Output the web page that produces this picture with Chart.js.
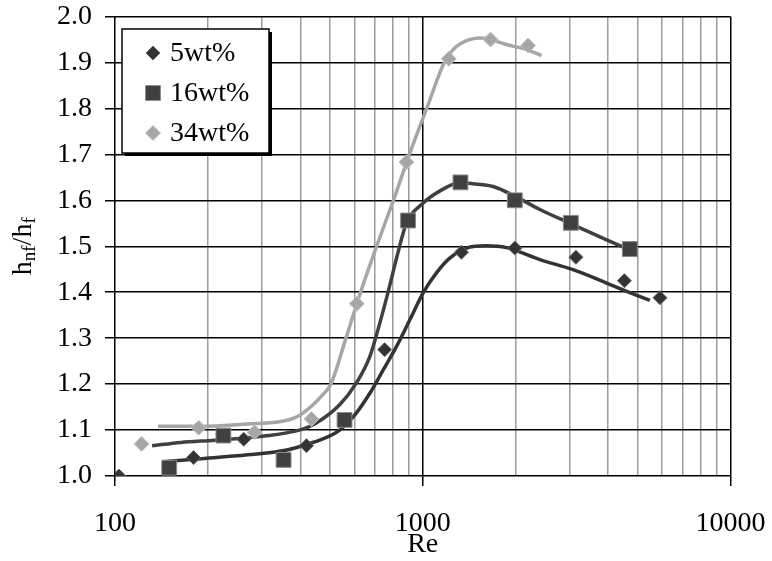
<!DOCTYPE html>
<html>
<head>
<meta charset="utf-8">
<script src="https://cdn.jsdelivr.net/npm/chart.js@4.4.0/dist/chart.umd.min.js"></script>
<style>
  html, body { margin: 0; padding: 0; background: #fff; }
  #wrap { position: relative; width: 772px; height: 561px; }
</style>
</head>
<body>
<div id="wrap"><canvas id="chart"></canvas></div>
<script>
// measured points (Re, h_nf/h_f)
const re5 = [103, 180, 262, 419, 752, 1336, 1991, 3146, 4520, 5900];
const h5 = [1.000, 1.040, 1.080, 1.066, 1.275, 1.487, 1.496, 1.476, 1.425, 1.388];
const re16 = [150, 225, 353, 557, 896, 1326, 1991, 3028, 4710];
const h16 = [1.018, 1.088, 1.035, 1.122, 1.556, 1.639, 1.600, 1.551, 1.494];
const re34 = [122, 187, 284, 435, 611, 885, 1215, 1660, 2200];
const h34 = [1.070, 1.105, 1.095, 1.124, 1.375, 1.683, 1.908, 1.950, 1.937];

// trend curves
const fitRe5 = [144, 186, 270, 365, 424, 463, 537, 608, 673, 744, 822, 908, 1006, 1108, 1224, 1387, 1611, 1871, 2402, 3080, 3958, 4596, 5470];
const fitH5 = [1.031, 1.037, 1.046, 1.057, 1.070, 1.078, 1.100, 1.137, 1.180, 1.231, 1.282, 1.340, 1.400, 1.442, 1.474, 1.496, 1.501, 1.497, 1.471, 1.449, 1.420, 1.402, 1.382];
const fitRe16 = [132, 164, 211, 306, 403, 445, 537, 608, 673, 715, 770, 835, 885, 1003, 1135, 1320, 1458, 1693, 2018, 2402, 3080, 3958, 4707];
const fitH16 = [1.066, 1.073, 1.078, 1.087, 1.101, 1.113, 1.155, 1.202, 1.260, 1.318, 1.398, 1.492, 1.550, 1.594, 1.620, 1.638, 1.636, 1.630, 1.607, 1.580, 1.547, 1.514, 1.492];
const fitRe34 = [138, 186, 270, 365, 400, 440, 470, 503, 563, 628, 708, 803, 905, 1030, 1175, 1245, 1320, 1531, 1655, 1871, 2173, 2432];
const fitH34 = [1.108, 1.108, 1.113, 1.122, 1.133, 1.155, 1.175, 1.200, 1.300, 1.400, 1.500, 1.600, 1.700, 1.800, 1.900, 1.925, 1.940, 1.953, 1.950, 1.939, 1.928, 1.915];

const seriesNames = ['5wt%', '16wt%', '34wt%'];
const xTicks = [100, 200, 300, 400, 500, 600, 700, 800, 900, 1000,
  2000, 3000, 4000, 5000, 6000, 7000, 8000, 9000, 10000];
const xTickLabels = ['100', '1000', '10000'];

const FONT = '"Liberation Serif", "Times New Roman", serif';

function pts(xs, ys) {
  return xs.map((x, i) => ({ x: x, y: ys[i] }));
}

function isDecade(v) {
  const l = Math.log10(v);
  return Math.abs(l - Math.round(l)) < 1e-6;
}

function markerDs(label, xs, ys, style, r, fill, border) {
  return {
    label: label,
    data: pts(xs, ys),
    showLine: false,
    pointStyle: style,
    pointRadius: r,
    pointHoverRadius: r,
    backgroundColor: fill,
    borderColor: border,
    borderWidth: 1,
    order: 0
  };
}

function trendDs(xs, ys, color) {
  return {
    label: 'trend',
    data: pts(xs, ys),
    showLine: true,
    pointRadius: 0,
    borderColor: color,
    borderWidth: 3.5,
    cubicInterpolationMode: 'monotone',
    fill: false,
    order: 5
  };
}

const markers = [
  markerDs(seriesNames[0], re5, h5, 'rectRot', 7, '#333333', '#666666'),
  markerDs(seriesNames[1], re16, h16, 'rect', 10.5, '#404040', '#8a8a8a'),
  markerDs(seriesNames[2], re34, h34, 'rectRot', 7.5, '#a6a6a6', '#c4c4c4')
];

// legend box inside the plot
const boxLegend = {
  id: 'boxLegend',
  afterDraw(chart) {
    const ctx = chart.ctx;
    const x = 122, y = 29, w = 147, h = 124;
    ctx.save();
    ctx.fillStyle = '#000';
    ctx.fillRect(x + 3, y + 3, w, h);
    ctx.fillStyle = '#fff';
    ctx.fillRect(x, y, w, h);
    ctx.strokeStyle = '#000';
    ctx.lineWidth = 1.5;
    ctx.strokeRect(x, y, w, h);
    markers.forEach((ds, i) => {
      const cx = x + 31, cy = y + 24 + i * 40;
      ctx.fillStyle = ds.backgroundColor;
      ctx.strokeStyle = ds.borderColor;
      ctx.lineWidth = 1;
      ctx.beginPath();
      if (ds.pointStyle === 'rect') {
        const s = ds.pointRadius * Math.SQRT1_2;
        ctx.rect(cx - s, cy - s, 2 * s, 2 * s);
      } else {
        const r = ds.pointRadius;
        ctx.moveTo(cx, cy - r);
        ctx.lineTo(cx + r, cy);
        ctx.lineTo(cx, cy + r);
        ctx.lineTo(cx - r, cy);
        ctx.closePath();
      }
      ctx.fill();
      ctx.stroke();
      ctx.fillStyle = '#000';
      ctx.font = '28px ' + FONT;
      ctx.textBaseline = 'middle';
      ctx.fillText(ds.label, x + 48, cy + 1);
    });
    ctx.restore();
  }
};

// y title with subscripts
const yTitle = {
  id: 'yTitle',
  afterDraw(chart) {
    const ctx = chart.ctx;
    const parts = [['h', 28, 0], ['nf', 19, 4], ['/h', 28, 0], ['f', 19, 4]];
    ctx.save();
    ctx.translate(23, (chart.chartArea.top + chart.chartArea.bottom) / 2);
    ctx.rotate(-Math.PI / 2);
    let total = 0;
    parts.forEach(p => {
      ctx.font = p[1] + 'px ' + FONT;
      total += ctx.measureText(p[0]).width;
    });
    let cx = -total / 2;
    ctx.fillStyle = '#000';
    ctx.textBaseline = 'alphabetic';
    parts.forEach(p => {
      ctx.font = p[1] + 'px ' + FONT;
      ctx.fillText(p[0], cx, 8 + p[2]);
      cx += ctx.measureText(p[0]).width;
    });
    ctx.restore();
  }
};

const ctx = document.getElementById('chart').getContext('2d');
const chart = new Chart(ctx, {
  type: 'scatter',
  data: {
    datasets: [
      markers[0], markers[1], markers[2],
      trendDs(fitRe5, fitH5, '#333333'),
      trendDs(fitRe16, fitH16, '#404040'),
      trendDs(fitRe34, fitH34, '#a6a6a6')
    ]
  },
  options: {
    responsive: true,
    maintainAspectRatio: false,
    devicePixelRatio: 1,
    animation: false,
    layout: { padding: { top: 16.5, right: 41.5, left: 0, bottom: 0 } },
    plugins: {
      legend: { display: false },
      tooltip: { enabled: false }
    },
    scales: {
      x: {
        type: 'logarithmic',
        min: 100,
        max: 10000,
        afterBuildTicks: (scale) => {
          scale.ticks = xTicks.map(v => ({ value: v }));
        },
        afterFit: (scale) => {
          scale.height = 85;
          scale.paddingLeft = 0;
          scale.paddingRight = 0;
        },
        border: { display: false },
        grid: {
          color: (c) => isDecade(c.tick.value) ? '#000' : '#9c9c9c',
          lineWidth: 1.5,
          tickColor: (c) => isDecade(c.tick.value) ? '#000' : 'rgba(0,0,0,0)',
          tickLength: 10
        },
        ticks: {
          autoSkip: false,
          maxRotation: 0,
          padding: 21,
          color: '#000',
          font: { family: FONT, size: 28 },
          callback: (v) => isDecade(v) ? xTickLabels[Math.round(Math.log10(v)) - 2] : ''
        },
        title: {
          display: true,
          text: 'Re',
          color: '#000',
          font: { family: FONT, size: 28 },
          padding: { top: 0, bottom: 0 }
        }
      },
      y: {
        min: 1.0,
        max: 2.0,
        afterFit: (scale) => {
          scale.width = 115;
          scale.paddingTop = 0;
          scale.paddingBottom = 0;
        },
        border: { display: false },
        grid: {
          color: '#000',
          lineWidth: 1.5,
          tickColor: '#000',
          tickLength: 10
        },
        ticks: {
          stepSize: 0.1,
          padding: 13,
          color: '#000',
          font: { family: FONT, size: 28 },
          callback: (v) => v.toFixed(1)
        }
      }
    }
  },
  plugins: [boxLegend, yTitle]
});
</script>
</body>
</html>
